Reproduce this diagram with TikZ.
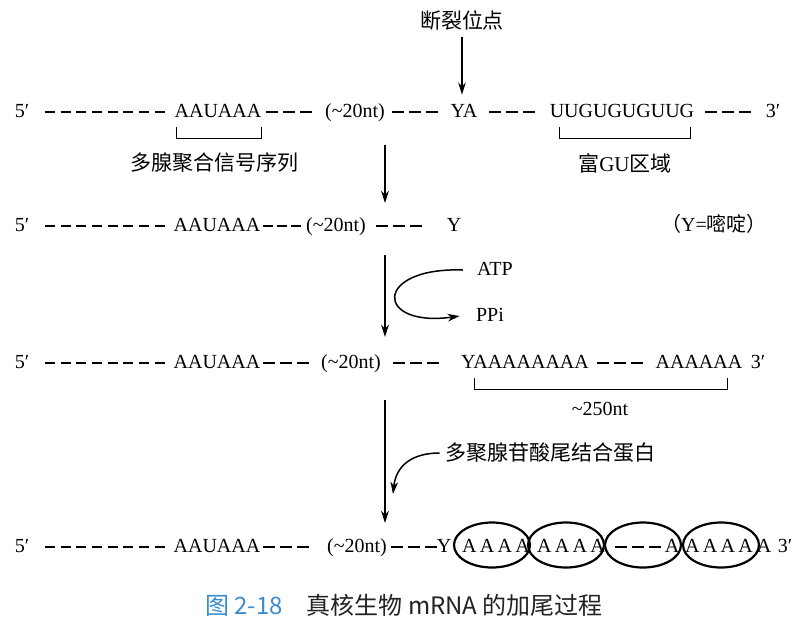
\documentclass[tikz,border=0pt]{standalone}
\usepackage{fontspec}
\setmainfont{Liberation Serif}
\newfontfamily\cjk{Noto Sans CJK SC}
\usetikzlibrary{arrows.meta,shapes.geometric}
\definecolor{capblue}{RGB}{60,140,205}
\definecolor{capgray}{RGB}{35,35,35}
\begin{document}
\begin{tikzpicture}[x=0.5pt,y=-0.5pt,
  seq/.style={inner sep=0pt, text height=7pt, text depth=2pt, font=\fontsize{10}{12}\selectfont},
  lab/.style={inner sep=0pt, font=\cjk\fontsize{10.5}{12}\selectfont},
  dsheight/.style={line width=0.9pt, dash pattern=on 5pt off 2.85pt},
  dshthree/.style={line width=0.9pt, dash pattern=on 6pt off 2.5pt},
  dshshort/.style={line width=0.9pt, dash pattern=on 5pt off 2pt},
  brk/.style={line width=0.75pt},
  arr/.style={line width=0.75pt, -{Stealth[length=6pt,width=3.8pt,inset=1.8pt]}},
  pab/.style={draw, ellipse, line width=1.1pt, minimum width=38pt, minimum height=22.5pt, inner sep=0pt},
]
\useasboundingbox (0,0) rectangle (800,623);
\fill[white] (0,0) rectangle (800,623);

% ---------- row 1 ----------
\node[lab] (dl) at (462,20) {断裂位点};
\node[seq] (p5a) at (22,112) {5′};
\node[seq] (aau1) at (218,112) {AAUAAA};
\node[seq] (nt1) at (355,112) {(\textasciitilde20nt)};
\node[seq] (ya1) at (464,112) {YA};
\node[seq] (ug1) at (622,112) {UUGUGUGUUG};
\node[seq] (p3a) at (773,112) {3′};
\draw[dsheight] ([xshift=7.65pt]p5a.east) -- ++(120,0);
\draw[dshthree] ([xshift=2.35pt]aau1.east) -- ++(46,0);
\draw[dshthree] ([xshift=3.6pt]nt1.east) -- ++(46,0);
\draw[dshthree] ([xshift=5.8pt]ya1.east) -- ++(46,0);
\draw[dshthree] ([xshift=5.4pt]ug1.east) -- ++(46,0);
\draw[arr, shorten <=3.5pt, shorten >=4pt] (dl.south) -- (dl.south |- ya1.north);
\draw[brk] ([shift={(2,6)}]aau1.south west) -- ++(0,11) -| ([shift={(0,6)}]aau1.south east);
\draw[brk] ([shift={(10,6)}]ug1.south west) -- ++(0,11) -| ([shift={(-4,6)}]ug1.south east);
\node[lab] (l1) at (215,163) {多腺聚合信号序列};
\node[lab] (l2) at (625,163) {富{\rmfamily GU}区域};

\coordinate (s1) at (385,145);
\coordinate (e1) at (385,203);
\draw[arr] (s1) -- (e1);

% ---------- row 2 ----------
\node[seq] (p5b) at (22,226) {5′};
\node[seq] (aau2) at (217,226) {AAUAAA};
\node[seq] (nt2) at (336,226) {(\textasciitilde20nt)};
\node[seq] (y2) at (454,226) {Y};
\node[seq] (ypy) at (714,226) {{\cjk （}Y={\cjk 嘧啶）}};
\draw[dsheight] ([xshift=7.65pt]p5b.east) -- ++(120,0);
\draw[dshshort] ([xshift=1.35pt]aau2.east) -- ++(38,0);
\draw[dshthree] ([xshift=5.1pt]nt2.east) -- ++(46,0);

\coordinate (s2) at (385,255);
\coordinate (e2) at (385,337);
\draw[arr] (s2) -- (e2);
\node[seq] (atp) at (495,270) {ATP};
\node[seq] (ppi) at (490,316) {PPi};
\draw[arr] ([xshift=-7pt]atp.west) .. controls +(-90,-3) and +(-85,12) .. ([xshift=-8pt]ppi.west);

% ---------- row 3 ----------
\node[seq] (p5c) at (22,363) {5′};
\node[seq] (aau3) at (217,363) {AAUAAA};
\node[seq] (nt3) at (351,363) {(\textasciitilde20nt)};
\node[seq] (ya3) at (525,363) {YAAAAAAAA};
\node[seq] (aa3) at (699,363) {AAAAAA};
\node[seq] (p3c) at (758,363) {3′};
\draw[dsheight] ([xshift=7.65pt]p5c.east) -- ++(120,0);
\draw[dshthree] ([xshift=1.35pt]aau3.east) -- ++(46,0);
\draw[dshthree] ([xshift=6.1pt]nt3.east) -- ++(46,0);
\draw[dshthree] ([xshift=4pt]ya3.east) -- ++(46,0);
\draw[brk] ([shift={(14,6)}]ya3.south west) -- ++(0,11) -| ([shift={(-15,6)}]aa3.south east);
\node[seq] (n250) at (600,410) {\textasciitilde250nt};

\coordinate (s3) at (385,400);
\coordinate (e3) at (385,523);
\draw[arr] (s3) -- (e3);
\node[lab] (pab) at (550,453) {多聚腺苷酸尾结合蛋白};
\coordinate (pe) at (393,494);
\draw[arr] ([xshift=-2.5pt]pab.west) .. controls +(-28,0) and +(3,-28) .. (pe);

% ---------- row 4 ----------
\node[seq] (p5d) at (22,547) {5′};
\node[seq] (aau4) at (217,547) {AAUAAA};
\node[seq] (nt4) at (357,547) {(\textasciitilde20nt)};
\node[seq] (y4) at (444,547) {Y};
\node[seq] (g1) at (496,547) {A\,A\,A\,A};
\node[seq] (g2) at (571,547) {A\,A\,A\,A};
\node[seq] (a5) at (672,547) {A};
\node[seq] (g4) at (719,547) {A\,A\,A\,A};
\node[seq] (af) at (764,547) {A};
\node[seq] (p3d) at (785,547) {3′};
\draw[dsheight] ([xshift=7.65pt]p5d.east) -- ++(120,0);
\draw[dshthree] ([xshift=1.35pt]aau4.east) -- ++(46,0);
\draw[dshthree] ([xshift=2.1pt]nt4.east) -- ++(46,0);
\draw[dshthree] ([xshift=5pt]g2.east) -- ++(46,0);
\node[pab] (e1p) at (492,545) {};
\node[pab] (e2p) at (566,545) {};
\node[pab] (e3p) at (643,545) {};
\node[pab] (e4p) at (721,545) {};

% ---------- caption ----------
\node[inner sep=0pt, font=\cjk\fontsize{12}{14}\selectfont, text=capgray] (cap) at (404,605)
  {{\color{capblue}图 2-18}\hspace{1em}真核生物 mRNA 的加尾过程};
\end{tikzpicture}
\end{document}
